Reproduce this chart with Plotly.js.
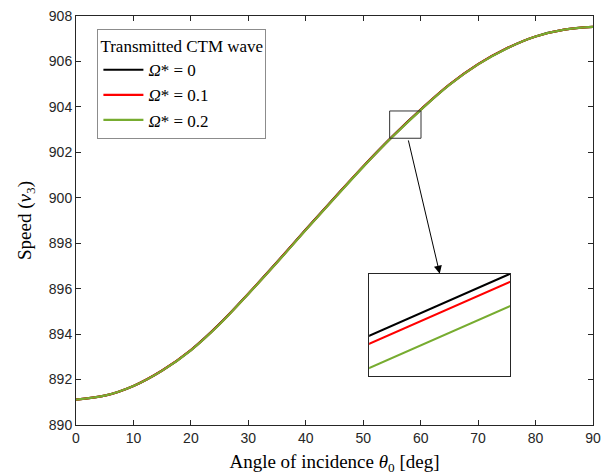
<!DOCTYPE html>
<html>
<head>
<meta charset="utf-8">
<script src="https://cdn.plot.ly/plotly-3.0.1.min.js"></script>
<style>html,body{margin:0;padding:0;background:#fff;}#chart{width:614px;height:475px;}</style>
</head>
<body>
<div id="chart"></div>
<script>
// Angle of incidence θ0 [deg]
const theta = [0,5,10,15,20,25,30,35,40,45,50,55,60,65,70,75,80,85,90];
// Speed v3 for each Ω*
const speedOmega0   = [891.120,891.290,891.720,892.400,893.300,894.450,895.780,897.170,898.600,900.000,901.380,902.680,903.880,904.980,905.880,906.580,907.100,907.400,907.520];
const speedOmega01  = [891.120,891.290,891.719,892.398,893.297,894.446,895.776,897.165,898.595,899.995,901.375,902.675,903.875,904.976,905.877,906.578,907.099,907.400,907.520];
const speedOmega02  = [891.120,891.290,891.716,892.392,893.288,894.434,895.764,897.150,898.580,899.980,901.360,902.660,903.860,904.964,905.868,906.572,907.096,907.400,907.520];
const seriesNames   = ['<i>Ω</i>* = 0','<i>Ω</i>* = 0.1','<i>Ω</i>* = 0.2'];
const seriesColors  = ['#000000','#ff0000','#77ac30'];
const seriesData    = [speedOmega0, speedOmega01, speedOmega02];
const xTicks = [0,10,20,30,40,50,60,70,80,90];
const yTicks = [890,892,894,896,898,900,902,904,906,908];
// zoom rectangle & arrow (data units)
const zoomBox = {x0:54.6, x1:60.06, y0:902.62, y1:903.82};
const arrowTail = {x:57.8, y:902.59};
const arrowHead = {x:63.32, y:896.66};

const traces = [];
seriesData.forEach((d,i)=>{
  traces.push({x:theta, y:d, type:'scatter', mode:'lines', name:seriesNames[i],
    line:{color:seriesColors[i], width:2.2, shape:'spline', smoothing:1}, xaxis:'x', yaxis:'y'});
});
seriesData.forEach((d,i)=>{
  traces.push({x:theta, y:d, type:'scatter', mode:'lines', name:seriesNames[i], showlegend:false,
    line:{color:seriesColors[i], width:2}, xaxis:'x2', yaxis:'y2', hoverinfo:'skip'});
});

const axColor = '#262626';
const tickFont = {family:'Liberation Sans, Arial, sans-serif', size:14, color:axColor};
const titleFont = {family:'Liberation Serif, Times New Roman, serif', size:19, color:'#000'};

const layout = {
  width:614, height:475,
  margin:{l:76, r:21, t:16, b:49.5, pad:0},
  paper_bgcolor:'#fff', plot_bgcolor:'#fff',
  showlegend:true,
  xaxis:{range:[0,90], tickvals:xTicks, ticktext:xTicks.map(String), ticks:'inside', ticklen:5, tickcolor:axColor,
    showline:true, linecolor:axColor, linewidth:1, mirror:'allticks', showgrid:false, zeroline:false,
    tickfont:tickFont, title:{text:'Angle of incidence <i>θ</i><sub>0</sub> [deg]', font:titleFont, standoff:12}},
  yaxis:{range:[890,908], tickvals:yTicks, ticktext:yTicks.map(String), ticks:'inside', ticklen:5, tickcolor:axColor,
    showline:true, linecolor:axColor, linewidth:1, mirror:'allticks', showgrid:false, zeroline:false,
    tickfont:tickFont, title:{text:'Speed (<i>v</i><sub>3</sub>)', font:titleFont, standoff:12}},
  xaxis2:{domain:[0.567,0.840], anchor:'y2', range:[56.5,56.66], showticklabels:false, ticks:'',
    showline:true, linecolor:axColor, linewidth:1, mirror:true, showgrid:false, zeroline:false},
  yaxis2:{domain:[0.119,0.370], anchor:'x2', range:[903.0149,903.0784], showticklabels:false, ticks:'',
    showline:true, linecolor:axColor, linewidth:1, mirror:true, showgrid:false, zeroline:false},
  legend:{x:0.0414, y:0.968, xanchor:'left', yanchor:'top', bgcolor:'#fff', bordercolor:'#8c8c8c', borderwidth:1,
    font:{family:'Liberation Serif, Times New Roman, serif', size:17, color:'#000'},
    title:{text:'Transmitted CTM wave', font:{family:'Liberation Serif, Times New Roman, serif', size:17, color:'#000'}, side:'top'},
    tracegroupgap:0, itemwidth:40},
  shapes:[{type:'rect', xref:'x', yref:'y', x0:zoomBox.x0, x1:zoomBox.x1, y0:zoomBox.y0, y1:zoomBox.y1,
    line:{color:'#333', width:1}, fillcolor:'rgba(0,0,0,0)'}],
  annotations:[{xref:'x', yref:'y', axref:'x', ayref:'y', x:arrowHead.x, y:arrowHead.y, ax:arrowTail.x, ay:arrowTail.y,
    text:'', showarrow:true, arrowhead:2, arrowsize:1.6, arrowwidth:1, arrowcolor:'#000', standoff:0, startstandoff:0}]
};

Plotly.newPlot('chart', traces, layout, {displayModeBar:false, staticPlot:true});
</script>
</body>
</html>
